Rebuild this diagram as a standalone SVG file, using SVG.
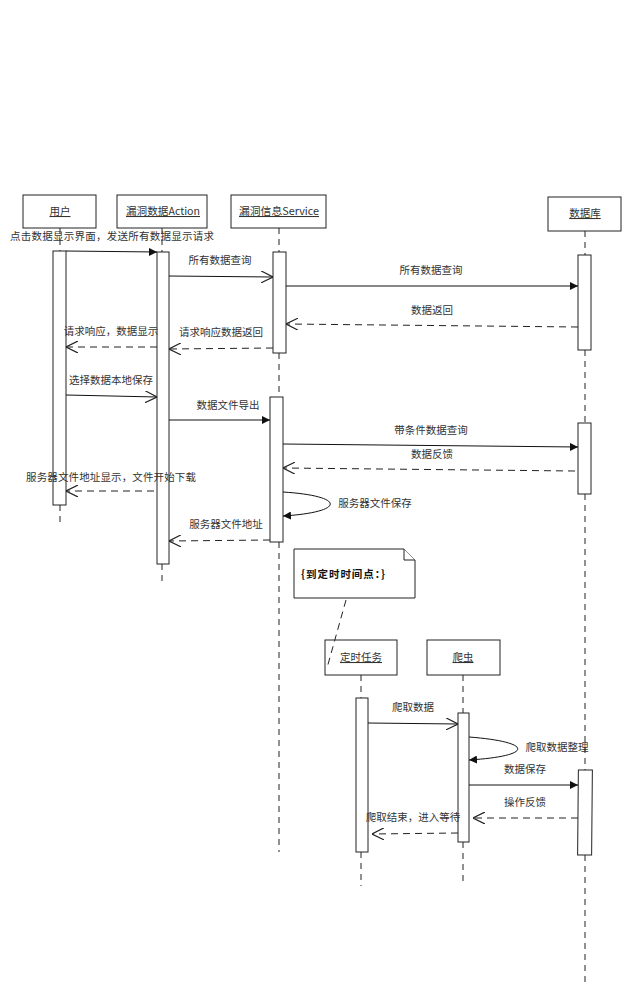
<svg xmlns="http://www.w3.org/2000/svg" width="635" height="1007" viewBox="0 0 635 1007">
<style>
.box{fill:#fff;stroke:#222;stroke-width:1}
.act{fill:#fff;stroke:#222;stroke-width:1}
.life{stroke:#222;stroke-width:1;stroke-dasharray:6,5;fill:none}
.msg{stroke:#111;stroke-width:1;fill:none}
.ret{stroke:#222;stroke-width:1;fill:none;stroke-dasharray:7,5}
.t{font-family:"Noto Sans CJK SC","Liberation Sans",sans-serif;font-size:10.5px;fill:#333;text-anchor:middle}
.bt{font-family:"Noto Sans CJK SC","Liberation Sans",sans-serif;font-size:10.5px;fill:#333;text-anchor:middle;text-decoration:underline}
.nt{font-family:"Noto Sans CJK SC","Liberation Sans",sans-serif;font-size:10.5px;fill:#111;font-weight:bold}
</style>
<defs>
<marker id="fa" viewBox="0 0 10 10" refX="10" refY="5" markerWidth="8" markerHeight="8" markerUnits="userSpaceOnUse" orient="auto"><path d="M0,0 L10,5 L0,10 Z" fill="#111"/></marker>
<marker id="oa" viewBox="0 0 10 10" refX="10" refY="5" markerWidth="12" markerHeight="12" markerUnits="userSpaceOnUse" orient="auto"><path d="M0,0 L10,5 L0,10" fill="none" stroke="#222" stroke-width="1"/></marker>
</defs>
<rect width="635" height="1007" fill="#fff"/>

<g id="lifelines">
<line class="life" x1="60" y1="228" x2="60" y2="251"/>
<line class="life" x1="60" y1="505" x2="60" y2="525"/>
<line class="life" x1="162" y1="228" x2="162" y2="252"/>
<line class="life" x1="162" y1="564" x2="162" y2="584"/>
<line class="life" x1="279" y1="228" x2="279" y2="252"/>
<line class="life" x1="279" y1="353" x2="279" y2="397"/>
<line class="life" x1="279" y1="542" x2="279" y2="852"/>
<line class="life" x1="585" y1="231" x2="585" y2="255"/>
<line class="life" x1="585" y1="350" x2="585" y2="423"/>
<line class="life" x1="585" y1="494" x2="585" y2="770"/>
<line class="life" x1="585" y1="855" x2="585" y2="982"/>
<line class="life" x1="361" y1="675" x2="361" y2="698"/>
<line class="life" x1="361" y1="852" x2="361" y2="886"/>
<line class="life" x1="463" y1="675" x2="463" y2="713"/>
<line class="life" x1="463" y1="842" x2="463" y2="886"/>
</g>

<g id="node-user"><rect class="box" x="23" y="195" width="73" height="33"/><text class="bt" x="60" y="215">用户</text></g>
<g id="node-action"><rect class="box" x="117" y="195" width="90" height="33"/><text class="bt" x="163" y="215" textLength="74" lengthAdjust="spacingAndGlyphs">漏洞数据Action</text></g>
<g id="node-service"><rect class="box" x="231" y="195" width="95" height="33"/><text class="bt" x="279" y="215" textLength="80" lengthAdjust="spacingAndGlyphs">漏洞信息Service</text></g>
<g id="node-db"><rect class="box" x="548" y="197" width="73" height="34"/><text class="bt" x="585" y="217">数据库</text></g>
<g id="node-timer"><rect class="box" x="325" y="640" width="72" height="35"/><text class="bt" x="361" y="661">定时任务</text></g>
<g id="node-crawler"><rect class="box" x="427" y="640" width="73" height="35"/><text class="bt" x="463" y="661">爬虫</text></g>
<g id="node-note"><path class="box" d="M294,549 L404,549 L415,560 L415,598 L294,598 Z"/><path class="box" d="M404,549 L404,560 L415,560" fill="none"/><text class="nt" x="301" y="578" textLength="84" lengthAdjust="spacing">{到定时时间点：}</text></g>

<g id="activations">
<rect class="act" x="53" y="251" width="13" height="254"/>
<rect class="act" x="157" y="252" width="12" height="312"/>
<rect class="act" x="273" y="252" width="13" height="101"/>
<rect class="act" x="270" y="397" width="13" height="145"/>
<rect class="act" x="578" y="255" width="13" height="95"/>
<rect class="act" x="578" y="423" width="13" height="71"/>
<rect class="act" x="578" y="770" width="14" height="85" transform="rotate(0.5 585 812)"/>
<rect class="act" x="356" y="698" width="12" height="154"/>
<rect class="act" x="458" y="713" width="11" height="129"/>
</g>

<g id="connectors">
<line class="msg" x1="66" y1="251" x2="157" y2="252" marker-end="url(#fa)"/>
<line class="msg" x1="169" y1="276" x2="273" y2="277" marker-end="url(#oa)"/>
<line class="msg" x1="286" y1="286" x2="578" y2="286" marker-end="url(#fa)"/>
<line class="ret" x1="578" y1="327" x2="286" y2="324" marker-end="url(#oa)"/>
<line class="ret" x1="273" y1="348" x2="169" y2="349" marker-end="url(#oa)"/>
<line class="ret" x1="157" y1="347" x2="66" y2="347" marker-end="url(#oa)"/>
<line class="msg" x1="66" y1="395" x2="157" y2="397" marker-end="url(#oa)"/>
<line class="msg" x1="169" y1="420" x2="270" y2="420" marker-end="url(#fa)"/>
<line class="msg" x1="283" y1="444" x2="578" y2="447" marker-end="url(#fa)"/>
<line class="ret" x1="575" y1="471" x2="283" y2="468" marker-end="url(#oa)"/>
<path class="msg" d="M283,492 C346,496 346,512 283,516" marker-end="url(#fa)"/>
<line class="ret" x1="270" y1="540" x2="169" y2="541" marker-end="url(#oa)"/>
<line class="ret" x1="154" y1="491" x2="66" y2="491" marker-end="url(#oa)"/>
<line class="ret" x1="346" y1="600" x2="327" y2="668" stroke-dasharray="6,4"/>
<line class="msg" x1="368" y1="723" x2="458" y2="724" marker-end="url(#oa)"/>
<path class="msg" d="M469,737 C534,742 534,756 469,760" marker-end="url(#fa)"/>
<line class="msg" x1="469" y1="785" x2="578" y2="785" marker-end="url(#fa)"/>
<line class="ret" x1="578" y1="818" x2="473" y2="818" marker-end="url(#oa)"/>
<line class="ret" x1="458" y1="833" x2="372" y2="834" marker-end="url(#oa)"/>
</g>

<g id="labels">
<text class="t" x="112" y="240" textLength="204" lengthAdjust="spacing">点击数据显示界面，发送所有数据显示请求</text>
<text class="t" x="220" y="264">所有数据查询</text>
<text class="t" x="431" y="274">所有数据查询</text>
<text class="t" x="432" y="314">数据返回</text>
<text class="t" x="221" y="336">请求响应数据返回</text>
<text class="t" x="111" y="335">请求响应，数据显示</text>
<text class="t" x="111" y="384">选择数据本地保存</text>
<text class="t" x="228" y="409">数据文件导出</text>
<text class="t" x="431" y="434">带条件数据查询</text>
<text class="t" x="432" y="458">数据反馈</text>
<text class="t" x="375" y="507">服务器文件保存</text>
<text class="t" x="226" y="528">服务器文件地址</text>
<text class="t" x="111" y="481" textLength="170" lengthAdjust="spacing">服务器文件地址显示，文件开始下载</text>
<text class="t" x="413" y="711">爬取数据</text>
<text class="t" x="557" y="751">爬取数据整理</text>
<text class="t" x="525" y="773">数据保存</text>
<text class="t" x="525" y="806">操作反馈</text>
<text class="t" x="413" y="821">爬取结束，进入等待</text>
</g>
</svg>
